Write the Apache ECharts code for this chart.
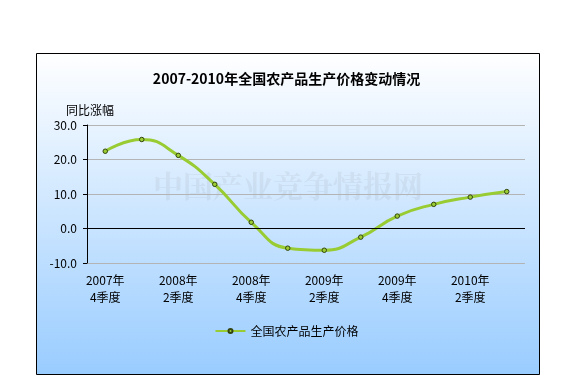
<!DOCTYPE html>
<html><head><meta charset="utf-8">
<script src="https://cdn.jsdelivr.net/npm/echarts@6/dist/echarts.min.js"></script>
<style>html,body{margin:0;padding:0;background:#fff}#c{width:573px;height:380px}</style>
</head><body><div id="c"></div>
<script>
const categories = ['2007年\n4季度','2008年\n1季度','2008年\n2季度','2008年\n3季度','2008年\n4季度','2009年\n1季度','2009年\n2季度','2009年\n3季度','2009年\n4季度','2010年\n1季度','2010年\n2季度','2010年\n3季度'];
const values = [22.4, 25.8, 21.2, 12.8, 1.8, -5.7, -6.3, -2.5, 3.6, 7.0, 9.1, 10.7];
const seriesName = '全国农产品生产价格';
const titleText = '2007-2010年全国农产品生产价格变动情况';
const yName = '同比涨幅';
const yTicks = [-10, 0, 10, 20, 30];

const font = '"Noto Sans CJK SC", "Noto Sans", sans-serif';
const chart = echarts.init(document.getElementById('c'), null, {renderer: 'canvas'});
chart.setOption({
  animation: false,
  textStyle: {fontFamily: font},
  graphic: [
    {type: 'rect', z: -10, shape: {x: 36.5, y: 53.5, width: 503, height: 321},
      style: {fill: new echarts.graphic.LinearGradient(0, 0, 0, 1, [
        {offset: 0, color: '#ffffff'}, {offset: 1, color: '#99ccff'}]),
        stroke: '#000', lineWidth: 1}},
    {type: 'text', z: -5, x: 288, y: 186, style: {text: '中国产业竞争情报网', fill: 'rgba(120,120,120,0.10)',
      font: 'bold 30px "Noto Serif CJK SC", "Noto Sans CJK SC", serif', align: 'center', verticalAlign: 'middle'}}
  ],
  title: {text: titleText, left: 'center', top: 67,
    textStyle: {fontSize: 14, fontWeight: 'bold', color: '#000', fontFamily: font}},
  grid: {left: 87, right: 48, top: 125, bottom: 117},
  legend: {data: [seriesName], top: 320, left: 'center', itemWidth: 30, itemHeight: 5, itemGap: 4,
    textStyle: {fontSize: 12, color: '#000', fontFamily: font}},
  xAxis: {type: 'category', data: categories, boundaryGap: true,
    axisLine: {show: false}, axisTick: {show: false},
    axisLabel: {interval: 1, margin: 9, fontSize: 12, color: '#000', lineHeight: 17, fontFamily: font}},
  yAxis: {type: 'value', min: yTicks[0], max: yTicks[yTicks.length-1], interval: 10,
    name: yName, nameLocation: 'end', nameGap: 9,
    nameTextStyle: {fontSize: 12, color: '#000', align: 'left', padding: [0, 0, 0, -21], fontFamily: font},
    axisLine: {show: true, lineStyle: {color: '#000', width: 1}},
    axisTick: {show: true, length: 4, inside: false, lineStyle: {color: '#000'}},
    axisLabel: {formatter: v => v.toFixed(1), fontSize: 12, color: '#000', margin: 10, fontFamily: font},
    splitLine: {show: true, lineStyle: {color: '#b4b4b4', width: 1}}},
  series: [{
    name: seriesName, type: 'line', data: values, smooth: 0.5,
    symbol: 'circle', symbolSize: 4.5,
    lineStyle: {color: '#99cc33', width: 3},
    itemStyle: {color: '#99cc33', borderColor: '#334411', borderWidth: 1},
    markLine: {silent: true, symbol: 'none', label: {show: false},
      lineStyle: {color: '#000', width: 1, type: 'solid'},
      data: [{yAxis: 0}]}
  }]
});
</script></body></html>
